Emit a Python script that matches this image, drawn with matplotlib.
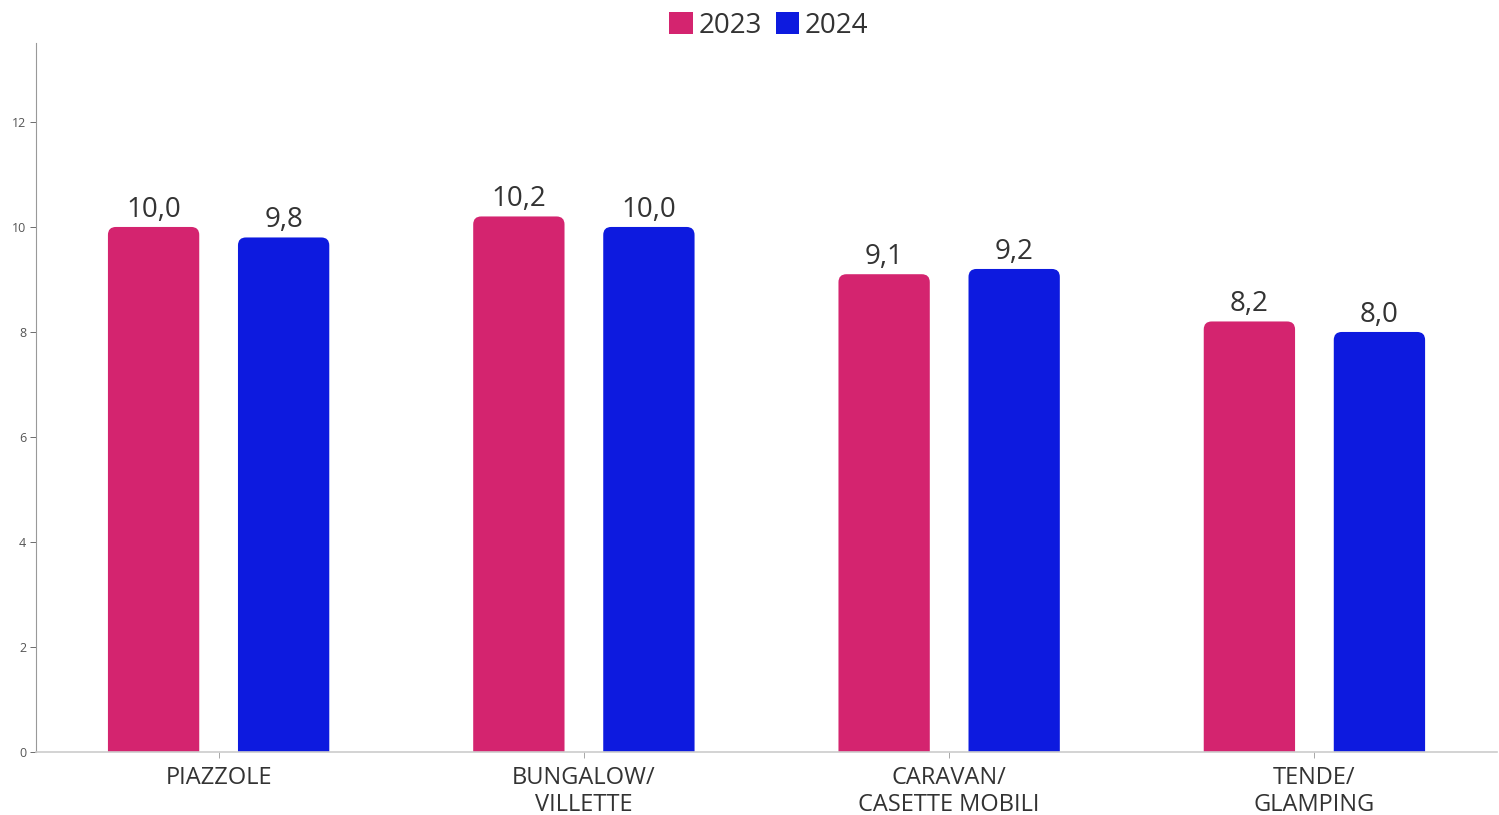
import numpy as np
import matplotlib.pyplot as plt
from matplotlib.patches import PathPatch, Rectangle
from matplotlib.path import Path

categories = ["PIAZZOLE", "BUNGALOW/\nVILLETTE", "CARAVAN/\nCASETTE MOBILI", "TENDE/\nGLAMPING"]
years = ["2023", "2024"]
values_2023 = [10.0, 10.2, 9.1, 8.2]
values_2024 = [9.8, 10.0, 9.2, 8.0]
colors = ["#D4246F", "#0D1ADF"]

plt.rcParams['font.family'] = ['Open Sans', 'DejaVu Sans']

fig = plt.figure(figsize=(14.99, 8.15), dpi=100)
ax = fig.add_axes([0.024, 0.0773, 0.9747, 0.8697])

x = np.arange(len(categories))
width = 0.25
offset = 0.178
ymax = 13.5
ax.set_xlim(-0.5, 3.5)
ax.set_ylim(0, ymax)

# pixel size in data units, so the rounded corners stay circular
ax_w = 0.9747 * 1499
ax_h = 0.8697 * 815
px_x = 4.0 / ax_w
px_y = ymax / ax_h
rx, ry = 8 * px_x, 8 * px_y


def round_top_bar(left, w, h):
    right = left + w
    verts = [(left, 0), (left, h - ry), (left, h), (left + rx, h),
             (right - rx, h), (right, h), (right, h - ry), (right, 0), (left, 0)]
    codes = [Path.MOVETO, Path.LINETO, Path.CURVE3, Path.CURVE3,
             Path.LINETO, Path.CURVE3, Path.CURVE3, Path.LINETO, Path.CLOSEPOLY]
    return Path(verts, codes)


for vals, col, sign in [(values_2023, colors[0], -1), (values_2024, colors[1], 1)]:
    for xi, v in zip(x, vals):
        left = xi + sign * offset - width / 2
        ax.add_patch(PathPatch(round_top_bar(left, width, v), facecolor=col, edgecolor="none"))
        ax.text(xi + sign * offset, v + 3 * px_y, f"{v:.1f}".replace(".", ","),
                ha="center", va="bottom", fontsize=20, color="#333333")

ax.set_xticks(x)
ax.set_xticklabels(categories, fontsize=17, color="#333333", linespacing=1.2)
ax.set_yticks([0, 2, 4, 6, 8, 10, 12])
ax.tick_params(axis="y", labelsize=9, colors="#555555", length=4, width=0.6, pad=3)
ax.tick_params(axis="x", length=4, width=0.6, color="#999999", pad=6)

for s in ["top", "right"]:
    ax.spines[s].set_visible(False)
ax.spines["left"].set_color("#999999")
ax.spines["bottom"].set_color("#cccccc")
ax.spines["left"].set_linewidth(0.8)
ax.spines["bottom"].set_linewidth(1.2)

handles = [Rectangle((0, 0), 1, 1, facecolor=c) for c in colors]
fig.legend(handles, years, loc="upper center", bbox_to_anchor=(0.513, 1.016), ncol=2,
           frameon=False, fontsize=20, handlelength=0.85, handleheight=0.85,
           handletextpad=0.2, columnspacing=0.5, labelcolor="#333333")

fig.savefig("out.png", dpi=100)
